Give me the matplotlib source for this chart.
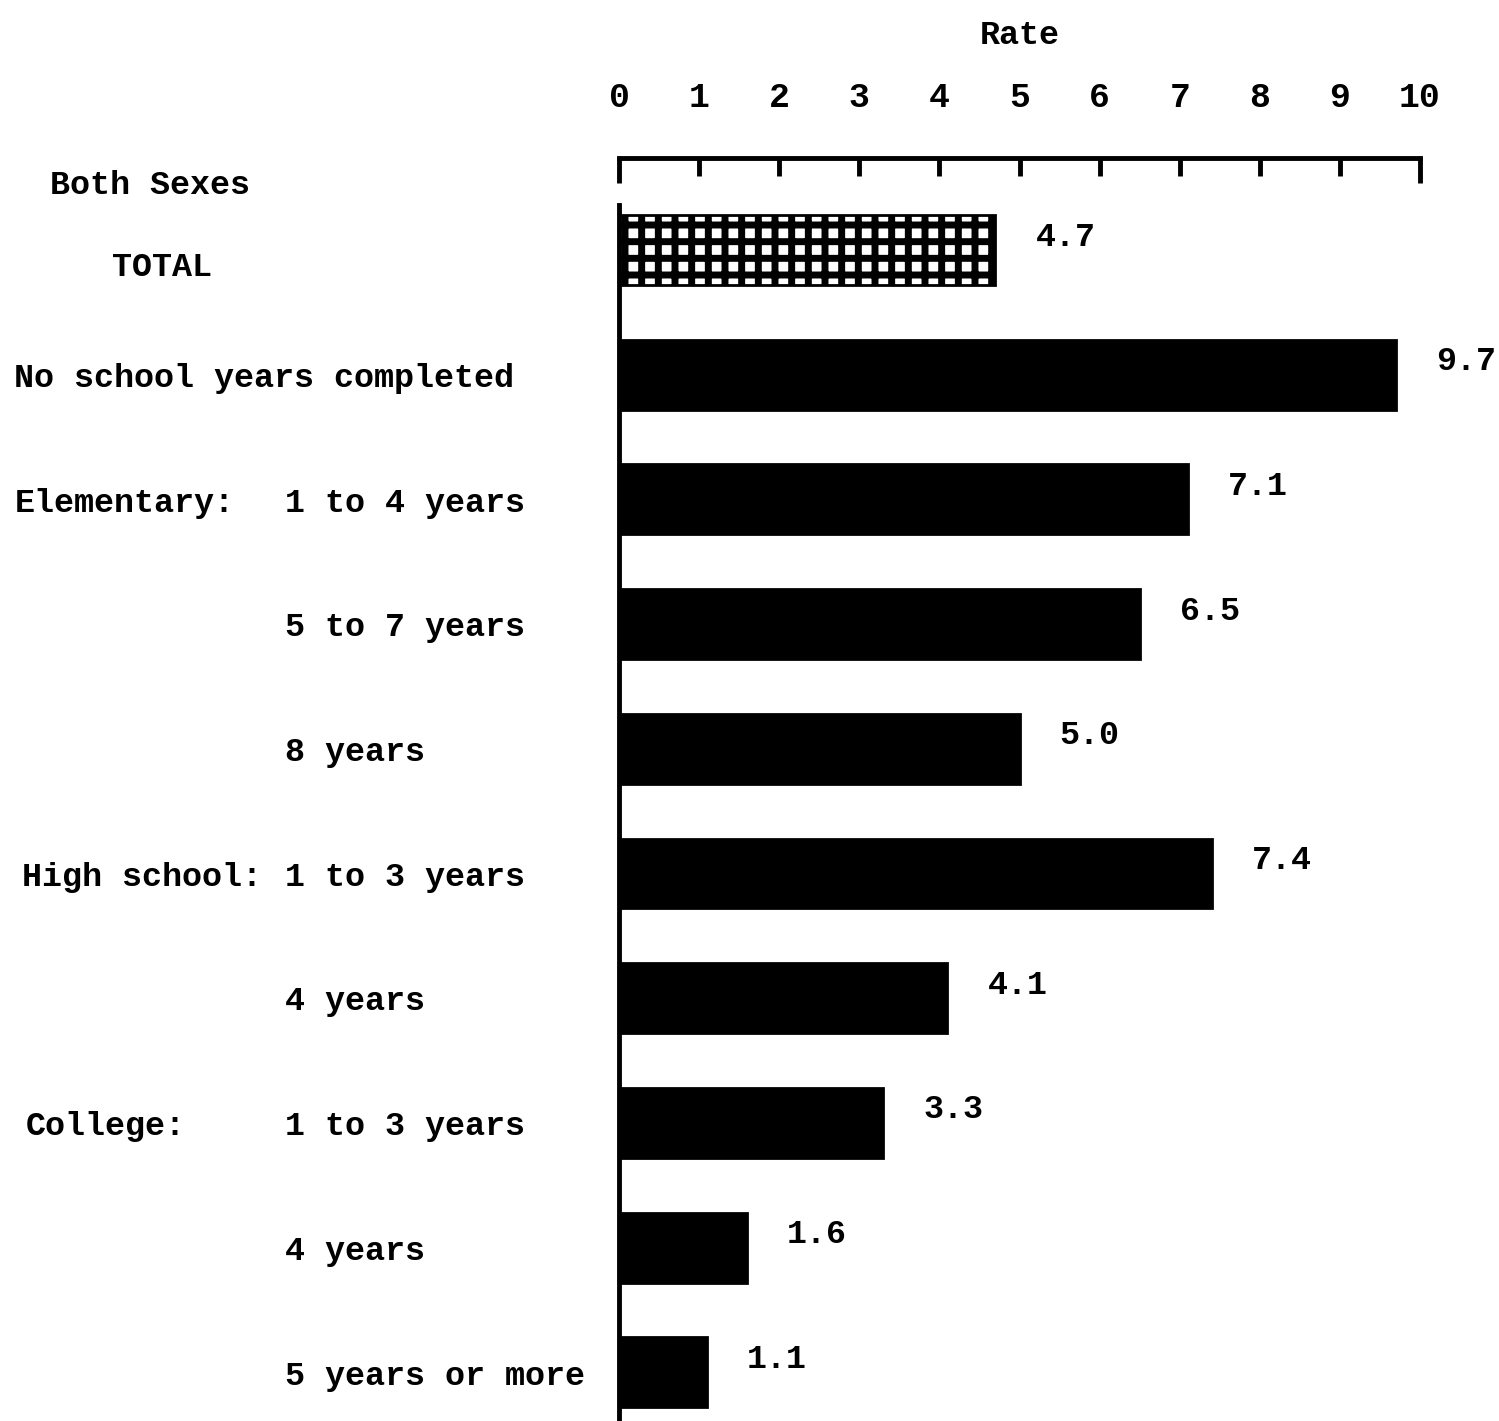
import numpy as np
import matplotlib.pyplot as plt
from matplotlib import transforms

# data
group_labels = ['TOTAL', 'No school years completed', 'Elementary:', '', '',
                'High school:', '', 'College:', '', '']
sub_labels = ['', '', '1 to 4 years', '5 to 7 years', '8 years',
              '1 to 3 years', '4 years', '1 to 3 years', '4 years', '5 years or more']
rates = [4.7, 9.7, 7.1, 6.5, 5.0, 7.4, 4.1, 3.3, 1.6, 1.1]
rate_ticks = list(range(0, 11))

# style
plt.rcParams['font.family'] = ['Liberation Mono', 'DejaVu Sans Mono']
plt.rcParams['font.weight'] = 'bold'
plt.rcParams['hatch.linewidth'] = 5.0
fs = 24
W, H = 1499, 1421

fig = plt.figure(figsize=(W / 100, H / 100), dpi=100)
# axes box in figure pixels: x 619..1420, y top 158..bottom 1421
ax = fig.add_axes([619 / W, 0.0, (1420 - 619) / W, (H - 158) / H])

y = np.arange(len(rates))
pitch = 124.7
ax.set_ylim((H - 250) / pitch, (158 - 250) / pitch)
ax.set_xlim(0, 10)

colors = ['white'] + ['black'] * (len(rates) - 1)
bars = ax.barh(y, rates, height=0.56, color=colors, edgecolor='black', linewidth=2)
bars[0].set_hatch('+')

for yi, v in zip(y, rates):
    ax.annotate(f'{v:.1f}', xy=(v, yi), xytext=(40, 13), textcoords='offset pixels',
                ha='left', va='center', fontsize=fs, fontweight='bold')

# top scale
ax.xaxis.tick_top()
ax.xaxis.set_label_position('top')
ax.set_xticks(rate_ticks)
ax.tick_params(axis='x', direction='in', length=13, width=3.5, labelsize=fs + 1, pad=32)
for lab in ax.get_xticklabels():
    lab.set_fontweight('bold')
# end ticks are a bit longer
for t in (ax.xaxis.get_major_ticks()[0], ax.xaxis.get_major_ticks()[-1]):
    t.tick2line.set_markersize(18)
ax.set_xlabel('Rate', fontsize=fs, fontweight='bold', labelpad=26)
ax.set_yticks([])

for s in ['right', 'bottom']:
    ax.spines[s].set_visible(False)
ax.spines['top'].set_linewidth(3.5)
ax.spines['left'].set_linewidth(3.5)
ax.spines['left'].set_bounds((205 - 250) / pitch, (H - 250) / pitch)

# category labels on the left
tr = transforms.blended_transform_factory(fig.transFigure, ax.transData)
group_x = {'TOTAL': 112, 'No school years completed': 14, 'Elementary:': 15,
           'High school:': 22, 'College:': 26}
ax.text(50 / W, (185 - 250) / pitch, 'Both Sexes', transform=tr, ha='left', va='center',
        fontsize=fs, fontweight='bold')
for yi, g, s in zip(y, group_labels, sub_labels):
    if g:
        dy = 0.14 if g == 'TOTAL' else 0.03
        ax.text(group_x[g] / W, yi + dy, g, transform=tr, ha='left', va='center',
                fontsize=fs, fontweight='bold')
    if s:
        ax.text(285 / W, yi + 0.03, s, transform=tr, ha='left', va='center',
                fontsize=fs, fontweight='bold')

fig.savefig('out.png', dpi=100)
